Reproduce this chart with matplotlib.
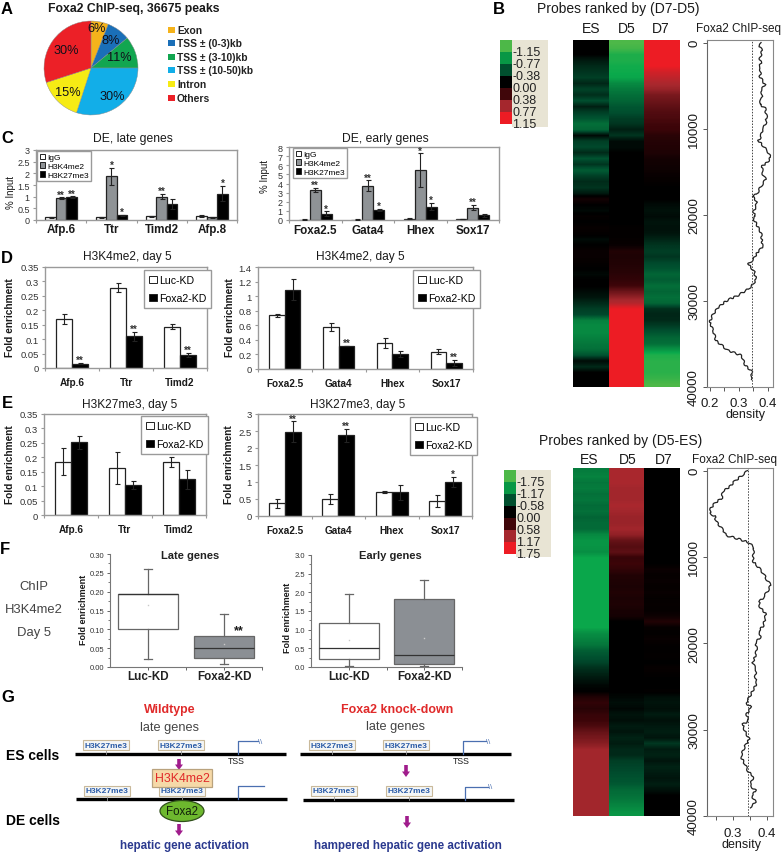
import numpy as np
import matplotlib
matplotlib.use('Agg')
import matplotlib.pyplot as plt
from matplotlib.colors import LinearSegmentedColormap
from matplotlib.patches import Ellipse, FancyArrow, Rectangle

plt.rcParams['font.family'] = ['Liberation Sans', 'DejaVu Sans']

W, H = 783, 853

# A: pie
pie_labels = ['Exon', 'TSS ± (0-3)kb', 'TSS ± (3-10)kb', 'TSS ± (10-50)kb', 'Intron', 'Others']
pie_values = [6, 8, 11, 30, 15, 30]
pie_colors = ['#F5B31B', '#1A6FB8', '#12A650', '#12AEE8', '#F6EB14', '#EC2027']

# C: ChIP % input
late_genes = ['Afp.6', 'Ttr', 'Timd2', 'Afp.8']
late_igg = [0.12, 0.12, 0.16, 0.17]
late_igg_err = [0.02, 0.02, 0.03, 0.05]
late_k4 = [0.93, 1.88, 1.0, 0.12]
late_k4_err = [0.05, 0.37, 0.12, 0.03]
late_k27 = [0.98, 0.2, 0.7, 1.13]
late_k27_err = [0.03, 0.02, 0.22, 0.33]
late_k4_stars = ['**', '*', '**', '']
late_k27_stars = ['**', '*', '', '*']

early_genes = ['Foxa2.5', 'Gata4', 'Hhex', 'Sox17']
early_igg = [0.05, 0.05, 0.15, 0.1]
early_igg_err = [0.03, 0.02, 0.02, 0.02]
early_k4 = [3.3, 3.75, 5.45, 1.35]
early_k4_err = [0.25, 0.6, 1.85, 0.3]
early_k27 = [0.7, 1.1, 1.45, 0.5]
early_k27_err = [0.25, 0.15, 0.4, 0.15]
early_k4_stars = ['**', '**', '*', '**']
early_k27_stars = ['*', '*', '*', '']

# D: H3K4me2 day 5
three_genes = ['Afp.6', 'Ttr', 'Timd2']
d_late_luc = [0.17, 0.278, 0.143]
d_late_luc_err = [0.018, 0.016, 0.009]
d_late_kd = [0.015, 0.11, 0.045]
d_late_kd_err = [0.002, 0.015, 0.008]
d_late_stars = ['**', '**', '**']
d_early_luc = [0.74, 0.575, 0.36, 0.24]
d_early_luc_err = [0.02, 0.05, 0.07, 0.04]
d_early_kd = [1.09, 0.315, 0.205, 0.085]
d_early_kd_err = [0.14, 0.0, 0.045, 0.04]
d_early_stars = ['', '**', '', '**']

# E: H3K27me3 day 5
e_late_luc = [0.185, 0.162, 0.183]
e_late_luc_err = [0.046, 0.055, 0.018]
e_late_kd = [0.252, 0.104, 0.124]
e_late_kd_err = [0.022, 0.015, 0.033]
e_early_luc = [0.37, 0.5, 0.72, 0.45]
e_early_luc_err = [0.12, 0.15, 0.03, 0.18]
e_early_kd = [2.48, 2.37, 0.7, 1.0]
e_early_kd_err = [0.3, 0.2, 0.22, 0.15]
e_early_stars = ['**', '**', '', '*']

# F: box plots (whislo, q1, med, q3, whishi, mean)
f_names = ['Luc-KD', 'Foxa2-KD']
f_late = [(0.02, 0.10, 0.195, 0.195, 0.26, 0.165), (0.007, 0.025, 0.05, 0.083, 0.142, 0.062)]
f_early = [(0.03, 0.21, 0.51, 1.19, 1.95, 0.73), (0.03, 0.09, 0.32, 1.82, 2.33, 0.78)]

# B: heatmaps, 60 bands top to bottom
top_es = [0, 0, 0, -.12, -.2, -.25, -.3, -.18, -.32, -.22, -.38, -.15, -.3, -.4, -.55, -.5, -.05,
          -.3, -.35, -.2, -.4, -.25, -.45, -.3, -.2, -.25, -.12, .12,
          0, -.04, .03, 0, .04, .02, -.05, 0, .05, .05, .03, 0, -.04, 0,
          0, -.05, -.1, -.2, -.3, -.35, -.65, -.7, -.7, -.65, -.6, -.55, -.4, -.05, -.2, 0, 0, 0]
top_d5 = [-1.15, -1.1, -.95, -.95, -.9, -.88, -.85, -.7, -.62, -.55, -.5, -.42, -.38, -.3, -.25, -.15, -.25,
          -.05, -.05, 0, 0, 0, 0, 0, 0, 0, 0, 0, 0, 0, 0, 0, .02, .02, .03, .05,
          .2, .18, .2, .22, .25, .3, .38, .55, .7, .85,
          1.15, 1.15, 1.15, 1.15, 1.15, 1.15, 1.15, 1.15, 1.15, 1.15, 1.15, 1.15, 1.15, 1.15]
top_d7 = [1.15, 1.15, 1.15, 1.15, 1.15, 1.0, .9, .8, .72, .6, .55, .5, .45, .42, .38, .35,
          .25, .22, .2, .18, .12, .1, .08, .05, .03, 0, 0, 0,
          -.05, -.08, -.05, -.1, -.08, -.1, -.18, -.25, -.3, -.25, -.35,
          -.4, -.5, -.45, -.55, -.5, -.55, -.5, -.22, -.18, -.2, -.3, -.4, -.5, -.55,
          -.75, -.95, -1.0, -1.0, -1.0, -1.05, -1.15]
bot_es = [-.95, -1.0, -.9, -.95, -.85, -.9, -.8, -.85, -.75, -.8, -.8, -1.05, -1.15, -1.15, -1.1,
          -1.3, -1.3, -1.3, -1.3, -1.3, -1.3, -1.3, -1.3, -1.3, -1.3, -1.3, -1.3, -1.3,
          -1.1, -1.0, -.9, -.7, -.6, -.5, -.35, -.25, -.15, -.05, 0,
          .3, .45, .35, .5, .55, .65, .8, .9, 1.0,
          1.15, 1.15, 1.15, 1.15, 1.15, 1.15, 1.15, 1.15, 1.15, 1.15, 1.15, 1.15]
bot_d5 = [1.2, 1.2, 1.2, 1.15, 1.15, 1.15, 1.2, 1.15, 1.1, 1.1, 1.15, 1.05, .8, .7, .75, .5, .55, .45,
          .3, .28, .25, .3, .25, .28, .22, .2, 0, 0, 0, 0, 0, 0, 0, 0, 0, 0, 0, 0, 0,
          -.05, -.1, -.05, -.15, -.1, -.2, -.15, -.25, -.2, -.3, -.3,
          -.45, -.5, -.55, -.6, -.65, -.8, -.85, -.95, -1.05, -1.15]
bot_d7 = [0, 0, 0, 0, 0, 0, 0, 0, 0, 0, 0, 0, 0, 0, 0, 0, 0,
          .1, .05, .08, .04, .08, .04, .06, .04, .12, .3, .05,
          .03, .08, .03, .02, .04, 0, .06, .03, 0, 0, .02,
          -.1, -.15, -.1, -.2, -.12, -.18, -.22, -.15, -.4,
          -.2, -.25, -.15, -.25, -.2, -.15, -.22, -.12, 0, 0, 0, 0]
top_scale = ['-1.15', '-0.77', '-0.38', '0.00', '0.38', '0.77', '1.15']
bot_scale = ['-1.75', '-1.17', '-0.58', '0.00', '0.58', '1.17', '1.75']
scale_steps = [-1, -0.67, -0.33, 0, 0.33, 0.67, 1]

# B: density traces
top_rank = [0, 500, 900, 1400, 1850, 2400, 2900, 3400, 3970, 4470, 4930, 5500, 6000, 6660, 7160, 7620, 8590,
            9470, 10130, 10900, 11400, 12050, 12630, 13320, 13860, 14360, 15130, 15900, 16670, 17630, 17860,
            18400, 18980, 19750, 20140, 20370, 21140, 22100, 23260, 23830, 24220, 25180, 25760, 26530, 27490,
            28070, 28640, 29340, 29990, 30760, 31720, 32490, 33650, 34610, 35770, 36340, 36920, 37420, 38270, 39120]
top_density = [.376, .370, .380, .376, .372, .376, .369, .376, .372, .382, .390, .376, .380, .376, .372, .390, .395,
               .392, .380, .376, .367, .384, .399, .409, .399, .380, .380, .392, .376, .361, .346,
               .361, .359, .349, .357, .349, .361, .376, .380, .380, .367, .349, .332, .352, .359,
               .349, .332, .298, .257, .229, .209, .200, .214, .221, .263, .309, .315, .321, .346, .341]
bot_rank = [0, 500, 1270, 1840, 2420, 3190, 3760, 4340, 4910, 5300, 5880, 6450, 7030, 7490, 7910, 8370, 8950,
            9720, 10480, 11060, 11900, 12600, 13290, 13940, 14710, 15210, 15860, 16510, 17200, 17970, 18550,
            19200, 19890, 20750, 21520, 22290, 23060, 24020, 24590, 25360, 26320, 26900, 27400, 28240, 29010,
            29390, 30160, 31120, 31890, 33120, 34000, 34880, 35420, 36500, 37070, 37650, 38420, 39000]
bot_density = [.343, .328, .304, .291, .270, .267, .247, .235, .232, .247, .250, .262, .273, .279, .316, .348, .362,
               .360, .358, .372, .389, .399, .411, .402, .389, .377, .379, .396, .394, .389, .376,
               .382, .367, .370, .365, .358, .368, .365, .370, .360, .347, .338, .353, .340, .345,
               .328, .335, .348, .335, .323, .335, .345, .360, .350, .367, .355, .367, .350]

BAR_EDGE = '#222222'
FRAME = '#9a9a9a'
TEXT = '#1a1a1a'

fig = plt.figure(figsize=(W / 100, H / 100), dpi=100, facecolor='white')


def panel(left, top, right, bottom):
    """axes from pixel box of the reference"""
    return fig.add_axes([left / W, 1 - bottom / H, (right - left) / W, (bottom - top) / H])


# overlay in pixel coordinates for labels and the schematic
ov = fig.add_axes([0, 0, 1, 1], zorder=10)
ov.set_xlim(0, W)
ov.set_ylim(H, 0)
ov.axis('off')
ov.patch.set_alpha(0)


def txt(x, y, s, size=9, **kw):
    kw.setdefault('ha', 'center')
    kw.setdefault('va', 'center')
    kw.setdefault('color', TEXT)
    ov.text(x, y, s, fontsize=size, **kw)


def style_bar_axes(ax, genes, ymax, ticks, ticklabels, ysize, xsize):
    ax.set_xlim(-0.5, len(genes) - 0.5)
    ax.set_ylim(0, ymax)
    ax.set_yticks(ticks)
    ax.set_yticklabels(ticklabels, fontsize=ysize, color='#333333')
    ax.set_xticks(np.arange(len(genes) + 1) - 0.5)
    ax.set_xticklabels([])
    for i, g in enumerate(genes):
        ax.text(i, -0.135, g, transform=ax.get_xaxis_transform(), ha='center', va='center',
                fontsize=xsize, fontweight='bold', color=TEXT)
    ax.tick_params(axis='both', length=2.5, width=0.8, color=FRAME, pad=2)
    for s in ax.spines.values():
        s.set_color(FRAME)
        s.set_linewidth(1.0)


def draw_bars(ax, series, colors, width, stars=None):
    n = len(series)
    for k, (vals, errs) in enumerate(series):
        pos = np.arange(len(vals)) + (k - (n - 1) / 2) * width
        ax.bar(pos, vals, width, color=colors[k], edgecolor=BAR_EDGE, linewidth=0.9, zorder=2)
        ax.errorbar(pos, vals, yerr=errs, fmt='none', ecolor='#222222', elinewidth=0.8, capsize=1.8,
                    capthick=0.8, zorder=3)
        if stars and stars[k]:
            for p, v, e, st in zip(pos, vals, errs, stars[k]):
                if st:
                    ax.annotate(st, (p, v + e), xytext=(0, 2), textcoords='offset points', ha='center',
                                va='center', fontsize=7, fontweight='bold', color='#333333', zorder=4)


def add_legend(ax, colors, labels, left, top, size, spacing, pad):
    handles = [Rectangle((0, 0), 1, 1, facecolor=c, edgecolor=BAR_EDGE, linewidth=0.7) for c in colors]
    leg = ax.legend(handles, labels, loc='upper left', bbox_to_anchor=(left / W, 1 - top / H),
                    bbox_transform=fig.transFigure, fancybox=False, framealpha=1, edgecolor=FRAME,
                    borderaxespad=0, fontsize=size, handlelength=0.7, handleheight=0.7,
                    handletextpad=0.2, labelspacing=spacing, borderpad=pad)
    leg.get_frame().set_linewidth(1.0)
    leg.set_zorder(6)


# panel letters
for letter, x, y in [('A', 7, 9), ('B', 499, 9), ('C', 7, 138), ('D', 7, 258), ('E', 7, 404),
                     ('F', 5, 549), ('G', 8, 697)]:
    txt(x, y, letter, size=12, fontweight='bold', color='black')

# A
ax = panel(44, 22, 138, 116)
ax.pie(pie_values, colors=pie_colors, startangle=90, counterclock=False, radius=1.0,
       wedgeprops=dict(edgecolor='#8a8a8a', linewidth=0.3))
ax.set_xlim(-1, 1)
ax.set_ylim(-1, 1)
txt(134, 9, 'Foxa2 ChIP-seq, 36675 peaks', size=8.8, fontweight='bold')
for (px, py), v in zip([(97, 29), (111, 41), (119, 58), (112, 97), (68, 93), (66, 51)], pie_values):
    txt(px, py, f'{v}%', size=9.2, color='#10101a')
for i, (lab, col) in enumerate(zip(pie_labels, pie_colors)):
    yy = 30.5 + i * 13.6
    ov.add_patch(Rectangle((167.5, yy - 3), 7, 6, facecolor=col, edgecolor='none'))
    txt(177, yy, lab, size=7.4, ha='left', fontweight='bold', color='#222222')

# C
c_colors = ['white', '#8f9396', 'black']
c_labels = ['IgG', 'H3K4me2', 'H3K27me3']
ax = panel(36, 151, 237, 221)
draw_bars(ax, [(late_igg, late_igg_err), (late_k4, late_k4_err), (late_k27, late_k27_err)], c_colors, 0.21,
          [None, late_k4_stars, late_k27_stars])
style_bar_axes(ax, late_genes, 3, [0, .5, 1, 1.5, 2, 2.5, 3], ['0', '0.5', '1', '1.5', '2', '2.5', '3'], 6.5, 8.4)
add_legend(ax, c_colors, c_labels, 37, 152, 6.0, 0.1, 0.3)
txt(11, 192, '% Input', size=7, rotation=90)
txt(133, 139, 'DE, late genes', size=8.7)

ax = panel(289, 148, 499, 221)
draw_bars(ax, [(early_igg, early_igg_err), (early_k4, early_k4_err), (early_k27, early_k27_err)], c_colors, 0.21,
          [None, early_k4_stars, early_k27_stars])
style_bar_axes(ax, early_genes, 8, range(9), [str(i) for i in range(9)], 6.5, 8.4)
add_legend(ax, c_colors, c_labels, 293, 149, 6.0, 0.1, 0.3)
txt(265, 176, '% Input', size=7, rotation=90)
txt(385, 139, 'DE, early genes', size=8.7)

# D
kd_colors = ['white', 'black']
kd_labels = ['Luc-KD', 'Foxa2-KD']
ax = panel(45, 268, 207, 369)
draw_bars(ax, [(d_late_luc, d_late_luc_err), (d_late_kd, d_late_kd_err)], kd_colors, 0.29, [None, d_late_stars])
style_bar_axes(ax, three_genes, 0.35, [0, .05, .1, .15, .2, .25, .3, .35],
               ['0', '0.05', '0.1', '0.15', '0.2', '0.25', '0.3', '0.35'], 6.8, 7.2)
add_legend(ax, kd_colors, kd_labels, 144, 271, 7.6, 0.75, 0.5)
txt(10, 318, 'Fold enrichment', size=7.3, rotation=90, fontweight='bold')
txt(127, 257, 'H3K4me2, day 5', size=8.6)

ax = panel(258, 268, 473, 370)
draw_bars(ax, [(d_early_luc, d_early_luc_err), (d_early_kd, d_early_kd_err)], kd_colors, 0.29, [None, d_early_stars])
style_bar_axes(ax, early_genes, 1.4, [0, .2, .4, .6, .8, 1, 1.2, 1.4],
               ['0', '0.2', '0.4', '0.6', '0.8', '1', '1.2', '1.4'], 6.8, 7.2)
add_legend(ax, kd_colors, kd_labels, 413, 271, 7.6, 0.75, 0.5)
txt(230, 318, 'Fold enrichment', size=7.3, rotation=90, fontweight='bold')
txt(360, 257, 'H3K4me2, day 5', size=8.6)

# E
ax = panel(44, 415, 206, 516)
draw_bars(ax, [(e_late_luc, e_late_luc_err), (e_late_kd, e_late_kd_err)], kd_colors, 0.3)
style_bar_axes(ax, three_genes, 0.35, [0, .05, .1, .15, .2, .25, .3, .35],
               ['0', '0.05', '0.1', '0.15', '0.2', '0.25', '0.3', '0.35'], 6.8, 7.2)
add_legend(ax, kd_colors, kd_labels, 141, 417, 7.6, 0.75, 0.5)
txt(10, 465, 'Fold enrichment', size=7.3, rotation=90, fontweight='bold')
txt(130, 405, 'H3K27me3, day 5', size=8.6)

ax = panel(258, 415, 472, 517)
draw_bars(ax, [(e_early_luc, e_early_luc_err), (e_early_kd, e_early_kd_err)], kd_colors, 0.3, [None, e_early_stars])
style_bar_axes(ax, early_genes, 3, [0, .5, 1, 1.5, 2, 2.5, 3], ['0', '0.5', '1', '1.5', '2', '2.5', '3'], 6.8, 7.2)
add_legend(ax, kd_colors, kd_labels, 410, 418, 7.6, 0.75, 0.5)
txt(229, 465, 'Fold enrichment', size=7.3, rotation=90, fontweight='bold')
txt(358, 405, 'H3K27me3, day 5', size=8.6)


# F
def draw_box(box, stats, ymax, ticks, fmt):
    st = [dict(label='', whislo=s[0], q1=s[1], med=s[2], q3=s[3], whishi=s[4], mean=s[5], fliers=[]) for s in stats]
    art = box.bxp(st, positions=[1, 2], widths=0.8, patch_artist=True, showmeans=True, showcaps=True,
                  boxprops=dict(edgecolor='#666666', linewidth=0.9),
                  medianprops=dict(color='#333333', linewidth=0.9),
                  whiskerprops=dict(color='#666666', linewidth=0.9),
                  capprops=dict(color='#666666', linewidth=0.9),
                  meanprops=dict(marker='s', markersize=1, markerfacecolor='#c9c9c9', markeredgecolor='none'),
                  capwidths=0.1)
    art['boxes'][0].set_facecolor('white')
    art['boxes'][1].set_facecolor('#8b8f94')
    box.set_xlim(0.5, 2.5)
    box.set_ylim(0, ymax)
    box.set_yticks(ticks)
    box.set_yticklabels([fmt % t for t in ticks], fontsize=5.5, color='#333333')
    box.set_yticks(np.array(ticks[:-1]) + (ticks[1] - ticks[0]) / 2, minor=True)
    box.set_xticks([1, 1.5, 2, 2.5])
    box.set_xticklabels(['', '', '', ''])
    box.tick_params(axis='both', length=2.5, width=0.7, color='#666666', pad=1.5)
    box.tick_params(axis='y', which='minor', length=1.5, width=0.6, color='#666666')
    box.spines[['top', 'right']].set_visible(False)
    box.spines[['left', 'bottom']].set_color('#777777')
    box.patch.set_alpha(0)


ax = panel(110, 555, 262, 668)
draw_box(ax, f_late, 0.30, [0, .05, .1, .15, .2, .25, .3], '%.2f')
ax = panel(311, 556, 462, 668)
draw_box(ax, f_early, 3.0, [0, .5, 1, 1.5, 2, 2.5, 3], '%.1f')
txt(84, 610, 'Fold enrichment', size=6.5, rotation=90, fontweight='bold')
txt(288, 618, 'Fold enrichment', size=6.5, rotation=90, fontweight='bold')
txt(190, 556, 'Late genes', size=8, fontweight='bold', color='#222222')
txt(390, 556, 'Early genes', size=8, fontweight='bold', color='#222222')
txt(239, 631, '**', size=9, fontweight='bold')
for x, lab in zip([148, 224, 349, 424], f_names * 2):
    txt(x, 677, lab, size=8.4, fontweight='bold', color='#222222')
for y, lab in zip([587, 610, 633], ['ChIP', 'H3K4me2', 'Day 5']):
    txt(34, y, lab, size=9.4, color='#444444')

# G schematic
txt(170, 710, 'Wildtype', size=8.9, fontweight='bold', color='#E02A2A')
txt(169, 728, 'late genes', size=9.2, color='#444444')
txt(397, 710, 'Foxa2 knock-down', size=8.9, fontweight='bold', color='#E02A2A')
txt(395, 727, 'late genes', size=9.2, color='#444444')
txt(33, 756, 'ES cells', size=10, fontweight='bold', color='black')
txt(33, 821, 'DE cells', size=10, fontweight='bold', color='black')
for x0, x1, y in [(75, 286, 755), (76, 287, 800), (300, 511, 755), (303, 514, 801)]:
    ov.plot([x0, x1], [y, y], color='black', lw=2.4, solid_capstyle='butt')
for x, y in [(106, 746), (181, 746), (107, 792), (182, 792), (332, 746), (406, 746), (334, 792), (409, 792)]:
    ov.plot([x, x], [y, y + 9], color='#999999', lw=0.6)
    txt(x, y, 'H3K27me3', size=6, color='#2B5CA8', fontweight='bold',
        bbox=dict(boxstyle='square,pad=0.2', facecolor='#F4F6F6', edgecolor='#C9B99A', linewidth=0.8))
for x, y, end, brk in [(238, 755, 258, True), (238, 800, 264, False), (463, 755, 486, True), (465, 801, 488, True)]:
    ov.plot([x, x, end], [y, y - 13, y - 13], color='#4A6FB0', lw=0.9)
    if brk:
        ov.text(end, y - 13, '\\\\', fontsize=5.5, color='#4A6FB0', ha='left', va='center')
txt(236, 762, 'TSS', size=6.3)
txt(461, 762, 'TSS', size=6.3)
for x, y0, y1 in [(179, 760, 771), (406, 766, 778), (179, 825, 837), (407, 817, 829)]:
    ov.add_patch(FancyArrow(x, y0, 0, y1 - y0, width=3.6, head_width=8, head_length=5.5,
                            length_includes_head=True, facecolor='#A01C8C', edgecolor='none'))
txt(182, 779, 'H3K4me2', size=8.9, color='#E02A2A',
    bbox=dict(boxstyle='square,pad=0.22', facecolor='#F6D9A8', edgecolor='#B9A27D', linewidth=0.9))
ov.add_patch(Ellipse((182, 812), 44, 21, facecolor='#6DB82E', edgecolor='#2F4F1A', linewidth=0.9, zorder=4))
ov.text(182, 812, 'Foxa2', fontsize=8.3, ha='center', va='center', color='#10200a', zorder=5)
txt(184, 846, 'hepatic gene activation', size=8.4, fontweight='bold', color='#2B3A8F')
txt(408, 846, 'hampered hepatic gene activation', size=8.4, fontweight='bold', color='#2B3A8F')

# B heatmaps
heat_cmap = LinearSegmentedColormap.from_list('heat', [
    (0.0, '#4DB848'), (0.12, '#0BAA4C'), (0.34, '#004D2E'), (0.5, '#000000'),
    (0.66, '#3D0509'), (0.84, '#A8282E'), (1.0, '#ED1C24')])


def draw_heat(top, bottom, columns, vmax, title_x, title_y, title, col_x, col_y):
    hm = panel(573, top, 680, bottom)
    # one image per column so the bands blend downwards but not across columns
    for i, col in enumerate(columns):
        hm.imshow(np.array(col)[:, None], extent=(i, i + 1, len(col), 0), aspect='auto', cmap=heat_cmap,
                  vmin=-vmax, vmax=vmax, interpolation='bilinear')
    hm.set_xlim(0, len(columns))
    hm.set_ylim(len(columns[0]), 0)
    hm.axis('off')
    txt(title_x, title_y, title, size=10)
    for x, lab in zip(col_x, ['ES', 'D5', 'D7']):
        txt(x, col_y, lab, size=10)


def draw_scale(left, top, bottom, labels, bg_right):
    ov.add_patch(Rectangle((left + 12, top), bg_right - left - 12, bottom + 3 - top, facecolor='#E8E4D4',
                           edgecolor='none', zorder=1))
    cb = panel(left, top, left + 12.5, bottom)
    cb.imshow(np.array(scale_steps)[:, None], aspect='auto', cmap=heat_cmap, vmin=-1, vmax=1, interpolation='nearest')
    cb.axis('off')
    step = (bottom - top) / 7
    for i, lab in enumerate(labels):
        txt(left + 12.5, top + step * (i + 1) - 0.5, lab, size=9, ha='left', zorder=3, color='#222222')


def draw_density(top, bottom, rank, density, x0, x1, xticks, xlabels, dotted, title_x, title_y, xpad, label_x, label_y):
    dn = panel(707, top, 773, bottom)
    line, = dn.plot(density, rank, color='#222222', lw=0.9)
    line.set_sketch_params(0.9, 7, 2)
    dn.axvline(dotted, color='#444444', lw=0.7, ls=(0, (1.5, 1.5)))
    dn.set_xlim(x0, x1)
    dn.set_ylim(40000, 0 - 300)
    dn.set_yticks([0, 10000, 20000, 30000, 40000])
    dn.set_yticklabels(['0', '10000', '20000', '30000', '40000'], rotation=90, va='center', fontsize=9.5, color=TEXT)
    dn.set_xticks(xticks)
    dn.set_xticklabels(xlabels, fontsize=9.5, color=TEXT)
    dn.tick_params(axis='y', length=3, width=0.7, color='#555555', pad=2)
    dn.tick_params(axis='x', length=3, width=0.7, color='#555555', pad=xpad)
    for s in dn.spines.values():
        s.set_color('#888888')
    dn.spines['left'].set_color('#666666')
    txt(label_x, label_y, 'density', size=9)
    txt(title_x, title_y, 'Foxa2 ChIP-seq', size=8.5)


draw_heat(41, 388, [top_es, top_d5, top_d7], 1.15, 618, 9, 'Probes ranked by (D7-D5)', [591, 627, 661], 29)
draw_scale(500, 41, 125, top_scale, 548)
draw_density(41, 388, top_rank, top_density, 0.1907, 0.417, [.2, .25, .3, .35, .4],
             ['0.2', '', '0.3', '', '0.4'], 0.344, 739, 29, 4, 745, 415)

draw_heat(469, 817, [bot_es, bot_d5, bot_d7], 1.75, 621, 441, 'Probes ranked by (D5-ES)', [589, 628, 664], 460)
draw_scale(504, 471, 555, bot_scale, 551)
draw_density(469, 817, bot_rank, bot_density, 0.2235, 0.4176, [.25, .3, .35, .4],
             ['', '0.3', '', '0.4'], 0.344, 734, 460, 5, 741, 845)

fig.savefig('out.png', dpi=100)
